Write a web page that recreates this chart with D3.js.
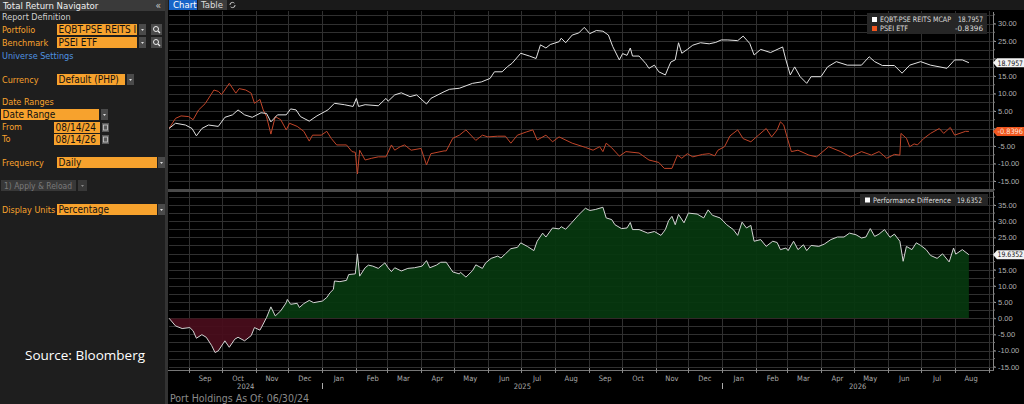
<!DOCTYPE html>
<html>
<head>
<meta charset="utf-8">
<script src="https://cdn.jsdelivr.net/npm/d3@7"></script>
<style>
  body { margin: 0; background: #000; overflow: hidden; }
  svg { display: block; font-family: "Liberation Sans Narrow", "DejaVu Sans Condensed", "Liberation Sans", Arial, sans-serif; }
</style>
</head>
<body>
<script>
const width = 1024;
const height = 404;

// series: [date, % return]
const eqbt = [
  ["2024-08-14",0],["2024-08-20",1.5],["2024-08-29",1.0],["2024-09-04",0],["2024-09-08",-2.1],
  ["2024-09-13",0],["2024-09-19",1.0],["2024-09-28",0.6],["2024-10-04",3.2],["2024-10-11",3.9],
  ["2024-10-16",5.3],["2024-10-22",3.9],["2024-10-29",3.2],["2024-11-06",4.5],["2024-11-11",4.3],
  ["2024-11-15",1.9],["2024-11-21",3.9],["2024-11-29",3.9],["2024-12-03",5.6],["2024-12-08",5.3],
  ["2024-12-12",3.4],["2024-12-20",2.1],["2024-12-27",3.6],["2025-01-06",5.3],["2025-01-12",7.2],
  ["2025-01-21",6.8],["2025-01-29",6.3],["2025-02-01",8.6],["2025-02-03",6.3],["2025-02-09",6.8],
  ["2025-02-21",6.5],["2025-02-28",8.6],["2025-03-02",7.8],["2025-03-08",9.6],["2025-03-14",10.2],
  ["2025-03-22",9.1],["2025-03-28",9.6],["2025-04-06",7.0],["2025-04-10",8.6],["2025-04-22",10.5],
  ["2025-04-27",11.2],["2025-05-06",11.5],["2025-05-18",12.9],["2025-05-26",13.3],["2025-06-03",14.3],
  ["2025-06-07",16.2],["2025-06-14",16.2],["2025-06-19",17.7],["2025-06-23",18.6],["2025-07-01",21.5],
  ["2025-07-09",20.7],["2025-07-15",20.0],["2025-07-19",23.9],["2025-07-24",23.0],["2025-07-28",24.0],
  ["2025-08-05",24.8],["2025-08-07",25.8],["2025-08-11",24.5],["2025-08-17",26.7],["2025-08-23",27.3],
  ["2025-08-28",28.9],["2025-09-02",27.1],["2025-09-08",28.0],["2025-09-14",27.8],["2025-09-19",26.7],
  ["2025-09-23",23.4],["2025-09-29",19.6],["2025-10-02",21.4],["2025-10-06",20.9],["2025-10-09",23.0],
  ["2025-10-11",20.7],["2025-10-17",20.7],["2025-10-23",18.6],["2025-10-26",17.2],["2025-10-31",18.1],
  ["2025-11-04",16.2],["2025-11-10",15.3],["2025-11-13",17.6],["2025-11-15",19.0],["2025-11-19",19.6],
  ["2025-11-22",24.5],["2025-11-25",21.5],["2025-11-30",22.6],["2025-12-05",23.8],["2025-12-12",24.5],
  ["2025-12-20",24.2],["2025-12-26",24.6],["2025-12-31",25.3],["2026-01-06",25.3],["2026-01-15",25.1],
  ["2026-01-20",26.4],["2026-01-26",24.3],["2026-01-30",21.0],["2026-02-05",22.6],["2026-02-14",21.7],
  ["2026-02-25",23.3],["2026-02-28",19.6],["2026-03-04",15.3],["2026-03-08",17.6],["2026-03-13",14.8],
  ["2026-03-19",12.9],["2026-03-23",14.8],["2026-04-01",14.8],["2026-04-07",17.6],["2026-04-15",19.1],
  ["2026-04-25",18.1],["2026-05-08",18.1],["2026-05-15",20.5],["2026-05-20",19.1],["2026-05-27",18.0],
  ["2026-06-07",18.0],["2026-06-14",15.8],["2026-06-21",18.1],["2026-07-01",19.1],["2026-07-10",18.1],
  ["2026-07-25",17.2],["2026-08-01",19.6],["2026-08-08",19.6],["2026-08-14",18.7957]
];

const psei = [
  ["2024-08-14",0],["2024-08-20",2.9],["2024-08-25",3.6],["2024-09-01",3.4],["2024-09-05",2.5],
  ["2024-09-10",5.3],["2024-09-16",7.1],["2024-09-24",11.0],["2024-09-28",10.6],["2024-10-01",9.7],
  ["2024-10-08",12.9],["2024-10-14",10.1],["2024-10-17",11.4],["2024-10-23",11.0],["2024-10-28",10.1],
  ["2024-10-31",7.2],["2024-11-05",8.3],["2024-11-08",5.3],["2024-11-11",3.4],["2024-11-15",-1.6],
  ["2024-11-19",3.4],["2024-11-24",2.5],["2024-11-29",-0.4],["2024-12-02",1.5],["2024-12-09",0.6],
  ["2024-12-15",-0.8],["2024-12-20",-3.6],["2024-12-23",-1.9],["2024-12-31",-1.9],["2025-01-05",-0.8],
  ["2025-01-09",-2.8],["2025-01-14",-4.7],["2025-01-23",-4.7],["2025-01-28",-6.6],["2025-01-31",-6.8],
  ["2025-02-02",-13.0],["2025-02-04",-6.2],["2025-02-09",-9.0],["2025-02-15",-8.5],["2025-02-21",-8.1],
  ["2025-02-28",-8.1],["2025-03-05",-4.7],["2025-03-08",-6.2],["2025-03-13",-5.2],["2025-03-17",-4.7],
  ["2025-03-23",-6.2],["2025-04-01",-5.7],["2025-04-06",-10.4],["2025-04-10",-7.2],["2025-04-22",-6.4],
  ["2025-04-24",-6.4],["2025-04-30",-2.8],["2025-05-06",-1.9],["2025-05-12",-0.4],["2025-05-21",-3.4],
  ["2025-05-27",-1.9],["2025-06-01",-2.4],["2025-06-10",-2.2],["2025-06-17",-2.2],["2025-06-22",-4.2],
  ["2025-06-28",-1.9],["2025-07-06",-1.0],["2025-07-12",-0.4],["2025-07-16",-3.3],["2025-07-24",-1.9],
  ["2025-07-30",-3.8],["2025-08-05",-2.4],["2025-08-17",-4.2],["2025-08-29",-5.4],["2025-09-05",-6.2],
  ["2025-09-11",-5.2],["2025-09-14",-6.6],["2025-09-17",-4.2],["2025-09-22",-5.5],["2025-09-29",-7.9],
  ["2025-10-05",-6.6],["2025-10-17",-7.0],["2025-10-26",-9.0],["2025-11-04",-9.7],["2025-11-09",-11.4],
  ["2025-11-16",-11.4],["2025-11-21",-7.6],["2025-11-25",-8.5],["2025-11-30",-7.2],["2025-12-05",-8.1],
  ["2025-12-14",-7.4],["2025-12-20",-7.2],["2025-12-25",-7.8],["2025-12-28",-6.2],["2026-01-03",-5.2],
  ["2026-01-08",-2.1],["2026-01-15",-0.4],["2026-01-20",-2.9],["2026-01-27",-3.8],["2026-02-03",-1.9],
  ["2026-02-10",0],["2026-02-15",-2.4],["2026-02-20",-0.4],["2026-02-23",1.9],["2026-02-26",1.0],
  ["2026-03-01",-2.4],["2026-03-05",-6.6],["2026-03-11",-6.2],["2026-03-21",-7.6],["2026-03-28",-8.1],
  ["2026-04-08",-5.2],["2026-04-19",-6.6],["2026-04-28",-8.1],["2026-05-08",-6.6],["2026-05-17",-7.6],
  ["2026-05-24",-6.6],["2026-05-31",-8.5],["2026-06-07",-7.4],["2026-06-12",-7.6],["2026-06-13",-1.4],
  ["2026-06-18",-2.8],["2026-06-21",-5.2],["2026-06-25",-4.4],["2026-06-28",-4.7],["2026-07-04",-2.8],
  ["2026-07-10",-1.4],["2026-07-18",0],["2026-07-22",-1.4],["2026-07-28",0.3],["2026-08-01",-1.9],
  ["2026-08-11",-0.8],["2026-08-14",-0.8396]
];

const perfDiff = [
  ["2024-08-14",0],["2024-08-20",-2.4],["2024-08-26",-3.2],["2024-09-02",-2.9],["2024-09-05",-3.9],
  ["2024-09-08",-6.2],["2024-09-13",-5.1],["2024-09-17",-5.9],["2024-09-22",-8.5],["2024-09-25",-10.6],
  ["2024-09-28",-10.1],["2024-10-04",-7.0],["2024-10-08",-9.0],["2024-10-13",-6.5],["2024-10-16",-5.9],
  ["2024-10-22",-7.0],["2024-10-28",-5.4],["2024-10-31",-2.9],["2024-11-05",-3.7],["2024-11-08",-1.8],
  ["2024-11-11",0.2],["2024-11-15",3.5],["2024-11-19",0.7],["2024-11-24",2.3],["2024-11-29",4.8],
  ["2024-11-30",5.8],["2024-12-03",4.3],["2024-12-09",4.6],["2024-12-11",3.3],["2024-12-15",4.5],
  ["2024-12-20",5.5],["2024-12-24",4.8],["2025-01-01",5.3],["2025-01-05",6.4],["2025-01-08",7.9],
  ["2025-01-11",8.9],["2025-01-12",11.5],["2025-01-17",11.3],["2025-01-23",11.7],["2025-01-25",13.5],
  ["2025-01-31",13.7],["2025-02-02",19.9],["2025-02-04",13.0],["2025-02-09",15.6],["2025-02-12",16.4],
  ["2025-02-16",16.1],["2025-02-21",15.4],["2025-02-27",17.1],["2025-03-02",15.6],["2025-03-05",14.4],
  ["2025-03-08",15.6],["2025-03-14",14.6],["2025-03-20",15.4],["2025-03-26",15.6],["2025-04-02",16.1],
  ["2025-04-06",17.8],["2025-04-09",15.6],["2025-04-15",16.4],["2025-04-19",17.3],["2025-04-24",17.3],
  ["2025-04-30",14.3],["2025-05-06",13.7],["2025-05-07",14.2],["2025-05-12",12.7],["2025-05-18",14.7],
  ["2025-05-21",16.5],["2025-05-27",15.4],["2025-05-30",17.1],["2025-06-04",18.5],["2025-06-10",19.2],
  ["2025-06-13",18.6],["2025-06-17",19.9],["2025-06-22",21.5],["2025-06-28",21.9],["2025-07-01",23.3],
  ["2025-07-07",22.2],["2025-07-13",20.9],["2025-07-16",23.8],["2025-07-21",26.3],["2025-07-24",25.1],
  ["2025-07-30",27.9],["2025-08-05",27.6],["2025-08-07",28.3],["2025-08-11",27.5],["2025-08-17",29.7],
  ["2025-08-23",32.0],["2025-08-29",34.0],["2025-09-02",33.3],["2025-09-07",33.6],["2025-09-14",34.3],
  ["2025-09-17",31.0],["2025-09-22",30.5],["2025-09-25",28.9],["2025-10-01",27.7],["2025-10-06",27.9],
  ["2025-10-09",29.6],["2025-10-11",27.4],["2025-10-17",27.4],["2025-10-25",26.3],["2025-10-31",26.8],
  ["2025-11-06",25.6],["2025-11-10",27.4],["2025-11-13",30.2],["2025-11-16",31.5],["2025-11-19",28.9],
  ["2025-11-22",32.1],["2025-11-27",29.5],["2025-12-01",32.5],["2025-12-09",32.2],["2025-12-15",31.0],
  ["2025-12-19",33.5],["2025-12-23",31.8],["2025-12-30",31.0],["2026-01-05",28.9],["2026-01-11",27.4],
  ["2026-01-15",25.6],["2026-01-19",29.7],["2026-01-23",27.9],["2026-01-27",28.7],["2026-01-30",23.8],
  ["2026-02-05",24.3],["2026-02-10",22.2],["2026-02-16",23.8],["2026-02-20",23.4],["2026-02-23",21.2],
  ["2026-02-28",21.7],["2026-03-02",20.9],["2026-03-07",23.8],["2026-03-11",21.2],["2026-03-16",22.7],
  ["2026-03-19",20.9],["2026-03-23",22.5],["2026-03-30",22.2],["2026-04-04",22.9],["2026-04-10",24.3],
  ["2026-04-16",25.1],["2026-04-22",25.1],["2026-04-27",26.3],["2026-05-03",25.8],["2026-05-08",24.8],
  ["2026-05-12",25.1],["2026-05-16",27.7],["2026-05-20",25.3],["2026-05-24",26.0],["2026-05-29",27.4],
  ["2026-06-03",25.0],["2026-06-07",26.0],["2026-06-12",23.8],["2026-06-15",17.6],["2026-06-18",22.2],
  ["2026-06-23",21.2],["2026-06-27",23.3],["2026-07-01",22.5],["2026-07-06",21.2],["2026-07-10",19.4],
  ["2026-07-16",18.5],["2026-07-21",19.9],["2026-07-27",17.4],["2026-07-31",21.7],["2026-08-02",19.8],
  ["2026-08-08",21.2],["2026-08-14",19.6352]
];

const seriesNames = ["EQBT-PSE REITS MCAP", "PSEI ETF"];
const seriesLast = [18.7957, -0.8396];
const diffName = "Performance Difference";
const diffLast = 19.6352;
const topTicks = [-15, -10, -5, 0, 5, 10, 15, 20, 25, 30];
const bottomTicks = [-15, -10, -5, 0, 5, 10, 15, 20, 25, 30, 35];
const monthNames = ["Jan","Feb","Mar","Apr","May","Jun","Jul","Aug","Sep","Oct","Nov","Dec"];
const yearLabels = ["2024", "2025", "2026"];

const parse = d3.timeParse("%Y-%m-%d");
const fmt = d => d.toFixed(2);

const svg = d3.select("body")
  .append("svg")
  .attr("width", width)
  .attr("height", height);

const x = d3.scaleTime()
  .domain([parse("2024-08-14"), parse("2026-09-05")])
  .range([169, 993]);
const yTop = d3.scaleLinear().domain([-15, 30]).range([181, 23.5]);
const yBot = d3.scaleLinear().domain([-15, 35]).range([366.7, 205]);

const topPanel = [11, 189];
const botPanel = [192, 370];

// ---- left panel ----
svg.append("rect").attr("x", 0).attr("y", 0).attr("width", 166).attr("height", height).attr("fill", "#1e1e1e");
svg.append("rect").attr("x", 165).attr("y", 0).attr("width", 3).attr("height", height).attr("fill", "#333");
svg.append("rect").attr("x", 0).attr("y", 0).attr("width", 165).attr("height", 11).attr("fill", "#3a3a3a");
svg.append("text").attr("x", 3).attr("y", 8.5).attr("fill", "#eee").style("font-size", "9.5px").text("Total Return Navigator");
svg.append("text").attr("x", 161).attr("y", 8.5).attr("fill", "#ccc").attr("text-anchor", "end").style("font-size", "10px").text("«");

const orange = "#f7a22d";
const labelRows = [
  {t: "Report Definition", y: 20, c: "#cfcfcf"},
  {t: "Portfolio", y: 33, c: orange},
  {t: "Benchmark", y: 46, c: orange},
  {t: "Universe Settings", y: 59, c: "#4f93e0"},
  {t: "Currency", y: 83, c: orange},
  {t: "Date Ranges", y: 105, c: orange},
  {t: "From", y: 130, c: orange},
  {t: "To", y: 142, c: orange},
  {t: "Frequency", y: 166, c: orange},
  {t: "Display Units", y: 213, c: orange}
];
svg.selectAll("text.lbl").data(labelRows).enter().append("text")
  .attr("class", "lbl").attr("x", 2).attr("y", d => d.y)
  .attr("fill", d => d.c).style("font-size", "9px").text(d => d.t);

const boxes = [
  {x: 57, y: 24, w: 80, t: "EQBT-PSE REITS I", dd: 139, search: true},
  {x: 57, y: 37, w: 80, t: "PSEI ETF", dd: 139, search: true},
  {x: 57, y: 74, w: 68, t: "Default (PHP)", dd: 127},
  {x: 1, y: 109, w: 98, t: "Date Range", dd: 101},
  {x: 54, y: 122, w: 46, t: "08/14/24", cal: 102},
  {x: 54, y: 134, w: 46, t: "08/14/26", cal: 102},
  {x: 57, y: 157, w: 100, t: "Daily", dd: 158},
  {x: 57, y: 204, w: 100, t: "Percentage", dd: 158}
];
boxes.forEach(b => {
  svg.append("rect").attr("x", b.x).attr("y", b.y).attr("width", b.w).attr("height", 11).attr("fill", orange);
  svg.append("text").attr("x", b.x + 1.5).attr("y", b.y + 9.2).attr("fill", "#111").style("font-size", "10px").text(b.t);
  if (b.dd) {
    svg.append("rect").attr("x", b.dd).attr("y", b.y).attr("width", 7).attr("height", 11).attr("fill", "#4a4a4a");
    svg.append("path").attr("d", `M${b.dd + 2},${b.y + 5}h3l-1.5,2z`).attr("fill", "#ddd");
  }
  if (b.search) {
    svg.append("rect").attr("x", 151).attr("y", b.y).attr("width", 11).attr("height", 11).attr("fill", "#4a4a4a");
    svg.append("circle").attr("cx", 156).attr("cy", b.y + 5).attr("r", 2.5).attr("fill", "none").attr("stroke", "#eee");
    svg.append("line").attr("x1", 158).attr("y1", b.y + 7).attr("x2", 160).attr("y2", b.y + 9).attr("stroke", "#eee").attr("stroke-width", 1.2);
  }
  if (b.cal) {
    svg.append("rect").attr("x", b.cal).attr("y", b.y + 1).attr("width", 7).attr("height", 9).attr("fill", "#5a5a5a");
    svg.append("rect").attr("x", b.cal + 1.5).attr("y", b.y + 3).attr("width", 4).attr("height", 5).attr("fill", "none").attr("stroke", "#ccc").attr("stroke-width", 0.8);
  }
});

svg.append("rect").attr("x", 1).attr("y", 180).attr("width", 75).attr("height", 11).attr("fill", "#383838");
svg.append("text").attr("x", 4).attr("y", 188.5).attr("fill", "#7a7a7a").style("font-size", "9px")
  .attr("textLength", 68).attr("lengthAdjust", "spacingAndGlyphs").text("1) Apply & Reload");
svg.append("rect").attr("x", 78).attr("y", 180).attr("width", 9).attr("height", 11).attr("fill", "#383838");
svg.append("path").attr("d", "M81,185h3l-1.5,2z").attr("fill", "#888");

svg.append("text").attr("x", 25).attr("y", 360)
  .attr("fill", "#fff").style("font-family", "'Open Sans', 'Noto Sans', sans-serif").style("font-size", "13.5px")
  .text("Source: Bloomberg");

// ---- chart header ----
svg.append("rect").attr("x", 168).attr("y", 0).attr("width", width - 168).attr("height", 10).attr("fill", "#1a1a1a");
svg.append("rect").attr("x", 169).attr("y", 0).attr("width", 28).attr("height", 10).attr("fill", "#1764c8");
svg.append("text").attr("x", 173).attr("y", 8).attr("fill", "#fff").style("font-size", "9.5px").text("Chart");
svg.append("rect").attr("x", 198).attr("y", 0).attr("width", 29).attr("height", 10).attr("fill", "#3c3c3c");
svg.append("text").attr("x", 201).attr("y", 8).attr("fill", "#ddd").style("font-size", "9.5px").text("Table");
svg.append("circle").attr("cx", 232.5).attr("cy", 5).attr("r", 2.6).attr("fill", "none").attr("stroke", "#ccc").attr("stroke-width", 1).attr("stroke-dasharray", "6 2");

// ---- grid ----
const grid = svg.append("g").attr("stroke", "#303030").attr("stroke-width", 1);
const months = d3.timeMonth.range(parse("2024-09-01"), x.domain()[1]);
[topPanel, botPanel].forEach(p => {
  grid.selectAll(null).data(months).enter().append("line")
    .attr("x1", d => Math.round(x(d)) + 0.5).attr("x2", d => Math.round(x(d)) + 0.5)
    .attr("y1", p[0]).attr("y2", p[1]);
});
grid.selectAll(null).data(d3.range(-15, 33, 2.5)).enter().append("line")
  .attr("x1", 169).attr("x2", 993)
  .attr("y1", d => Math.round(yTop(d)) + 0.5).attr("y2", d => Math.round(yTop(d)) + 0.5);
grid.selectAll(null).data(d3.range(-15, 38, 2.5)).enter().append("line")
  .attr("x1", 169).attr("x2", 993)
  .attr("y1", d => Math.round(yBot(d)) + 0.5).attr("y2", d => Math.round(yBot(d)) + 0.5);

// panel separators
svg.append("rect").attr("x", 168).attr("y", 189).attr("width", 826).attr("height", 3).attr("fill", "#4a4a4a");
svg.append("line").attr("x1", 168).attr("x2", 994).attr("y1", 370.5).attr("y2", 370.5).attr("stroke", "#777");

// ---- clips ----
const defs = svg.append("defs");
defs.append("clipPath").attr("id", "clipTop").append("rect")
  .attr("x", 169).attr("y", topPanel[0]).attr("width", 824).attr("height", topPanel[1] - topPanel[0]);
defs.append("clipPath").attr("id", "clipPos").append("rect")
  .attr("x", 169).attr("y", botPanel[0]).attr("width", 824).attr("height", yBot(0) - botPanel[0]);
defs.append("clipPath").attr("id", "clipNeg").append("rect")
  .attr("x", 169).attr("y", yBot(0)).attr("width", 824).attr("height", botPanel[1] - yBot(0));

// ---- top lines ----
const lineTop = d3.line().x(d => x(parse(d[0]))).y(d => yTop(d[1]));
const topG = svg.append("g").attr("clip-path", "url(#clipTop)");
topG.append("path").datum(psei).attr("d", lineTop)
  .attr("fill", "none").attr("stroke", "#c2462a").attr("stroke-width", 1);
topG.append("path").datum(eqbt).attr("d", lineTop)
  .attr("fill", "none").attr("stroke", "#e2e2e2").attr("stroke-width", 1);

// ---- difference area ----
const areaBot = d3.area().x(d => x(parse(d[0]))).y0(yBot(0)).y1(d => yBot(d[1]));
svg.append("path").datum(perfDiff).attr("d", areaBot).attr("fill", "#07380f").attr("fill-opacity", 0.92).attr("clip-path", "url(#clipPos)");
svg.append("path").datum(perfDiff).attr("d", areaBot).attr("fill", "#4a0d1c").attr("fill-opacity", 0.92).attr("clip-path", "url(#clipNeg)");
svg.append("path").datum(perfDiff)
  .attr("d", d3.line().x(d => x(parse(d[0]))).y(d => yBot(d[1])))
  .attr("fill", "none").attr("stroke", "#d4d4d4").attr("stroke-width", 1);

// ---- right axes ----
function rightAxis(scale, ticks, minor, extent, tags) {
  const g = svg.append("g").attr("transform", "translate(993,0)");
  g.call(d3.axisRight(scale).tickValues(ticks).tickFormat(fmt).tickSize(3).tickPadding(2));
  g.select(".domain").remove();
  g.append("line").attr("x1", 0.5).attr("x2", 0.5).attr("y1", extent[0]).attr("y2", extent[1]).attr("stroke", "#888");
  g.selectAll(".tick line").attr("stroke", "#999");
  g.selectAll(".tick text").attr("fill", "#b0b0b0").style("font-size", "7.5px")
    .style("font-family", "'Liberation Sans Narrow', 'Liberation Sans', Arial, sans-serif");
  // labels that sit under a value tag are covered by it
  g.selectAll(".tick").filter(d => tags.some(t => Math.abs(scale(d) - scale(t)) < 8)).select("text").remove();
  g.selectAll(null).data(minor).enter().append("line")
    .attr("x1", 0).attr("x2", 2).attr("y1", d => scale(d)).attr("y2", d => scale(d)).attr("stroke", "#777");
}
rightAxis(yTop, topTicks, d3.range(-17.5, 33, 2.5), [12, 189], seriesLast);
rightAxis(yBot, bottomTicks, d3.range(-15, 38, 2.5), [192, 370], [diffLast]);

function valueTag(cy, txt, fill, color) {
  svg.append("path")
    .attr("d", `M993,${cy}L997,${cy - 4.5}H1024V${cy + 4.5}H997Z`)
    .attr("fill", fill);
  svg.append("text").attr("x", 997.5).attr("y", cy + 2.8).attr("fill", color)
    .attr("textLength", 25.5).attr("lengthAdjust", "spacingAndGlyphs")
    .style("font-size", "7.5px").text(txt);
}
valueTag(yTop(seriesLast[0]), seriesLast[0].toFixed(4), "#f2f2f2", "#111");
valueTag(yTop(seriesLast[1]), seriesLast[1].toFixed(4), "#f0561f", "#ffe6dc");
valueTag(yBot(diffLast), diffLast.toFixed(4), "#f2f2f2", "#111");

// ---- legends ----
const lg = svg.append("g");
lg.append("rect").attr("x", 867).attr("y", 13).attr("width", 120).attr("height", 21).attr("fill", "#262626");
const legendColors = ["#ffffff", "#f0561f"];
const legendWidths = [71, 28];
seriesNames.forEach((n, i) => {
  const cy = 19.5 + i * 9;
  lg.append("rect").attr("x", 872).attr("y", cy - 2.5).attr("width", 5).attr("height", 5).attr("fill", legendColors[i]);
  lg.append("text").attr("x", 880).attr("y", cy + 2.5).attr("fill", "#ddd").style("font-size", "7.5px")
    .attr("textLength", legendWidths[i]).attr("lengthAdjust", "spacingAndGlyphs").text(n);
  lg.append("text").attr("x", 983).attr("y", cy + 2.5).attr("text-anchor", "end").attr("fill", "#ddd").style("font-size", "7.5px")
    .attr("textLength", seriesLast[i] < 0 ? 28 : 25).attr("lengthAdjust", "spacingAndGlyphs").text(seriesLast[i].toFixed(4));
});
lg.append("rect").attr("x", 860).attr("y", 194).attr("width", 128).attr("height", 12).attr("fill", "#262626");
lg.append("rect").attr("x", 865).attr("y", 197.5).attr("width", 5).attr("height", 5).attr("fill", "#fff");
lg.append("text").attr("x", 873).attr("y", 202.5).attr("fill", "#ddd").style("font-size", "7.5px")
  .attr("textLength", 78).attr("lengthAdjust", "spacingAndGlyphs").text(diffName);
lg.append("text").attr("x", 982).attr("y", 202.5).attr("text-anchor", "end").attr("fill", "#ddd").style("font-size", "7.5px")
  .attr("textLength", 25).attr("lengthAdjust", "spacingAndGlyphs").text(diffLast.toFixed(4));

// ---- x axis ----
const xg = svg.append("g");
xg.selectAll(null).data(months).enter().append("line")
  .attr("x1", d => Math.round(x(d)) + 0.5).attr("x2", d => Math.round(x(d)) + 0.5)
  .attr("y1", 368).attr("y2", 373).attr("stroke", "#888");
const labelMonths = months.filter(d => d3.timeDay.offset(d, 15) < parse("2026-08-31"));
xg.selectAll(null).data(labelMonths).enter().append("text")
  .attr("x", d => x(d3.timeDay.offset(d, 15)))
  .attr("y", 380.5).attr("text-anchor", "middle").attr("fill", "#aaa").style("font-size", "7.5px")
  .text(d => monthNames[d.getMonth()]);
const yearStarts = [x.domain()[0], parse("2025-01-01"), parse("2026-01-01"), x.domain()[1]];
yearLabels.forEach((t, i) => {
  xg.append("text").attr("x", (x(yearStarts[i]) + x(yearStarts[i + 1])) / 2).attr("y", 388.5)
    .attr("text-anchor", "middle").attr("fill", "#aaa").style("font-size", "7.5px").text(t);
});
[parse("2025-01-01"), parse("2026-01-01")].forEach(d => {
  xg.append("line").attr("x1", Math.round(x(d)) + 0.5).attr("x2", Math.round(x(d)) + 0.5)
    .attr("y1", 383).attr("y2", 389).attr("stroke", "#aaa");
});

svg.append("text").attr("x", 170).attr("y", 401.5).attr("fill", "#8a8a8a").style("font-size", "10.5px").text("Port Holdings As Of: 06/30/24");
</script>
</body>
</html>
